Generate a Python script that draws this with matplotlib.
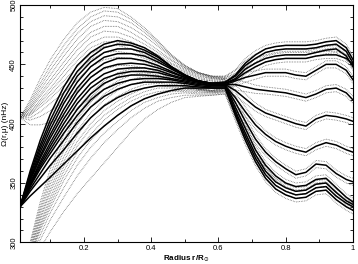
import numpy as np
import matplotlib
matplotlib.use("Agg")
import matplotlib.pyplot as plt
from matplotlib.ticker import MultipleLocator

plt.rcParams['font.family'] = ['Liberation Sans', 'DejaVu Sans']

# radius grid r/Rsun
radius = [0.01, 0.04, 0.07, 0.10, 0.14, 0.18, 0.22, 0.26, 0.30, 0.34,
          0.38, 0.42, 0.46, 0.50, 0.54, 0.58, 0.62, 0.65, 0.68, 0.71,
          0.74, 0.77, 0.80, 0.83, 0.86, 0.89, 0.92, 0.95, 0.98, 1.00]

# rotation rate (nHz), one profile per latitude
w01 = [330, 360, 386, 408, 431, 449, 460, 467, 470, 468, 464, 457, 448, 441, 436, 434, 435,
       441, 451, 458, 463, 465, 466, 466, 466, 467, 469, 470, 464, 454]
w02 = [330, 358, 382, 403, 426, 444, 456, 464, 467, 466, 462, 456, 448, 441, 436, 434, 435,
       440, 449, 455, 460, 462, 463, 463, 463, 464, 466, 467, 461, 451]
w03 = [330, 356, 379, 399, 421, 440, 452, 460, 463, 463, 460, 454, 447, 441, 436, 434, 434,
       438, 446, 451, 455, 457, 458, 458, 458, 460, 462, 463, 457, 448]
w04 = [330, 354, 376, 395, 417, 435, 448, 456, 459, 459, 457, 452, 446, 440, 436, 434, 434,
       437, 443, 448, 452, 454, 455, 455, 455, 457, 458, 458, 455, 450]
w05 = [330, 353, 373, 391, 412, 430, 443, 451, 455, 455, 453, 449, 444, 439, 436, 434, 433,
       436, 439, 441, 443, 443, 443, 441, 440, 445, 450, 450, 445, 437]
w06 = [330, 352, 371, 388, 408, 426, 439, 447, 450, 451, 450, 447, 443, 439, 436, 433, 433,
       433, 431, 429, 428, 427, 426, 424, 422, 425, 429, 430, 426, 420]
w07 = [330, 350, 368, 384, 404, 421, 434, 442, 446, 447, 447, 445, 441, 438, 435, 433, 433,
       428, 421, 414, 409, 406, 403, 400, 398, 404, 407, 406, 404, 402]
w08 = [330, 349, 366, 381, 400, 417, 430, 438, 442, 444, 444, 443, 440, 437, 435, 433, 432,
       422, 410, 399, 391, 385, 381, 378, 376, 381, 384, 382, 378, 376]
w09 = [330, 348, 364, 378, 396, 412, 425, 434, 439, 441, 441, 440, 438, 436, 434, 432, 432,
       418, 402, 387, 376, 368, 362, 357, 359, 366, 365, 358, 353, 351]
w10 = [330, 347, 362, 375, 392, 407, 420, 429, 434, 437, 438, 438, 437, 435, 433, 432, 432,
       414, 396, 378, 365, 356, 350, 347, 348, 353, 354, 346, 338, 334]
w11 = [330, 345, 358, 371, 386, 401, 414, 423, 429, 433, 435, 435, 435, 434, 432, 431, 431,
       411, 392, 374, 360, 351, 346, 343, 344, 349, 350, 342, 335, 332]
w12 = [330, 343, 354, 365, 378, 392, 405, 415, 422, 427, 430, 432, 432, 432, 431, 430, 430,
       409, 389, 371, 357, 348, 343, 340, 341, 346, 347, 339, 333, 330]
w13 = [330, 339, 347, 355, 366, 377, 388, 398, 407, 415, 421, 425, 428, 430, 430, 430, 430,
       407, 386, 368, 354, 345, 340, 337, 338, 343, 344, 336, 330, 327]

# 1-sigma error of the inversion (nHz)
sigma = [75, 60, 52, 46, 40, 36, 34, 31, 27, 22, 17, 13, 10, 8, 7, 6, 5,
         4.5, 4, 3.5, 3, 3, 3, 3, 3, 3, 3, 3, 3, 3]

profiles = [w01, w02, w03, w04, w05, w06, w07, w08, w09, w10, w11, w12, w13]

r = np.array(radius)
err = np.array(sigma)

fig = plt.figure(figsize=(3.58, 2.64), dpi=100)
ax = fig.add_axes([0.056, 0.082, 0.93, 0.899])

for w in profiles:
    w = np.array(w)
    ax.plot(r, w + err, ls=(0, (0.7, 1.1)), color='0.35', lw=0.65)
    ax.plot(r, w - err, ls=(0, (0.7, 1.1)), color='0.35', lw=0.65)
for w in profiles:
    ax.plot(r, w, color='black', lw=1.1)

ax.set_xlim(0.01, 1.0)
ax.set_ylim(300, 500)
ax.xaxis.set_minor_locator(MultipleLocator(0.1))
ax.yaxis.set_major_locator(MultipleLocator(50))
ax.yaxis.set_minor_locator(MultipleLocator(10))
ax.set_xticks([0.2, 0.4, 0.6, 0.8, 1.0])
ax.set_xticklabels(['0.2', '0.4', '0.6', '0.8', '1'])
ax.tick_params(which='both', direction='in', top=True, right=True,
               labelsize=5.5, width=0.6, pad=2)
ax.tick_params(which='major', length=3.5)
ax.tick_params(which='minor', length=2)
for lab in ax.get_yticklabels():
    lab.set_rotation(90)
    lab.set_va('center')
for s in ax.spines.values():
    s.set_linewidth(0.8)

ax.set_xlabel(r'Radius r/R$_{\odot}$', fontsize=5.8, fontweight='bold', labelpad=1)
ax.set_ylabel('Ω(r,μ) (nHz)', fontsize=6, labelpad=1)

fig.savefig('out.png', dpi=100)
